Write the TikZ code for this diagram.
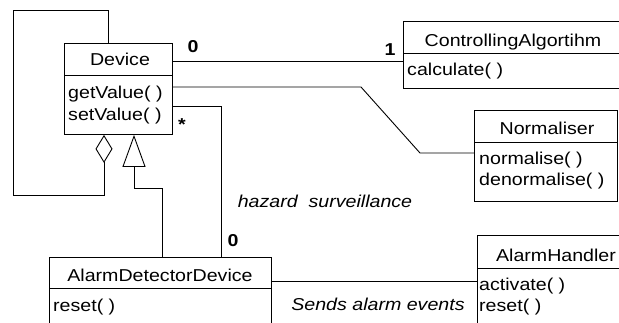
\documentclass[tikz,border=0pt]{standalone}
\usepackage{fontspec}
\setmainfont{Liberation Sans}[FakeStretch=1.14]
\usetikzlibrary{arrows.meta}
\begin{document}
\begin{tikzpicture}[x=1pt,y=-1pt,
  cls/.style={draw,line width=0.9pt,rectangle,inner sep=0pt,anchor=north west},
  txt/.style={inner sep=0pt,anchor=base,font=\fontsize{17.2}{20}\selectfont},
  mth/.style={inner sep=0pt,anchor=base west,font=\fontsize{17.2}{20}\selectfont},
  lbl/.style={inner sep=0pt,anchor=base,font=\fontsize{17.2}{20}\selectfont\bfseries},
  itl/.style={inner sep=0pt,anchor=base,font=\fontsize{17.2}{20}\selectfont\itshape},
  rel/.style={line width=0.9pt},
]
\useasboundingbox (0,0) rectangle (619,322);
\clip (0,0) rectangle (619,322);
% Device
\node[cls,minimum width=108pt,minimum height=91pt] (dev) at (64,43) {};
\draw[rel] (dev.west |- 0,75) -- (dev.east |- 0,75);
\node[txt] (devn) at (120,65) {Device};
\node[mth] (devm1) at (68,98) {getValue( )};
\node[mth] (devm2) at (68,120) {setValue( )};
% ControllingAlgortihm
\node[cls,minimum width=240pt,minimum height=67pt] (ca) at (403,21) {};
\draw[rel] (ca.west |- 0,53) -- (ca.east |- 0,53);
\node[txt] (can) at (513,46) {ControllingAlgortihm};
\node[mth] (cam1) at (407,75) {calculate( )};
% Normaliser
\node[cls,minimum width=143pt,minimum height=91pt] (norm) at (474,110) {};
\draw[rel] (norm.west |- 0,142) -- (norm.east |- 0,142);
\node[txt] (normn) at (547,134) {Normaliser};
\node[mth] (normm1) at (479,164) {normalise( )};
\node[mth] (normm2) at (479,185) {denormalise( )};
% AlarmHandler
\node[cls,minimum width=160pt,minimum height=120pt] (ah) at (477,235) {};
\draw[rel] (ah.west |- 0,268) -- (ah.east |- 0,268);
\node[txt] (ahn) at (556,261) {AlarmHandler};
\node[mth] (ahm1) at (479,290) {activate( )};
\node[mth] (ahm2) at (479,311) {reset( )};
% AlarmDetectorDevice
\node[cls,minimum width=222pt,minimum height=100pt] (add) at (49,257) {};
\draw[rel] (add.west |- 0,288) -- (add.east |- 0,288);
\node[txt] (addn) at (160,281) {AlarmDetectorDevice};
\node[mth] (addm1) at (53,311) {reset( )};
% connectors
\draw[rel] (dev.east |- 0,61) -- (ca.west |- 0,61);
\draw[rel] (dev.east |- 0,87) -- (361,87) -- (420,153) -- (norm.west |- 0,153);
\draw[rel] (dev.east |- 0,106) -- (221,106) -- (add.north -| 221,0);
\draw[rel,-{Triangle[open,length=32pt,width=23pt]}] (add.north -| 162,0) -- (162,188) -- (134,188) -- (dev.south -| 134,0);
\draw[rel,-{Diamond[open,length=28pt,width=17pt]}] (dev.north -| 108,0) -- (108,10) -- (13,10) -- (13,195) -- (104,195) -- (dev.south -| 104,0);
\draw[rel] (add.east |- 0,281) -- (ah.west |- 0,281);
% labels
\node[lbl] (m1) at (193,52) {0};
\node[lbl] (m2) at (390,55) {1};
\node[lbl] (m3) at (182,130) {*};
\node[lbl] (m4) at (233,246) {0};
\node[itl] (hz) at (325,207) {hazard\ \ surveillance};
\node[itl] (se) at (378,310) {Sends alarm events};
\end{tikzpicture}
\end{document}
